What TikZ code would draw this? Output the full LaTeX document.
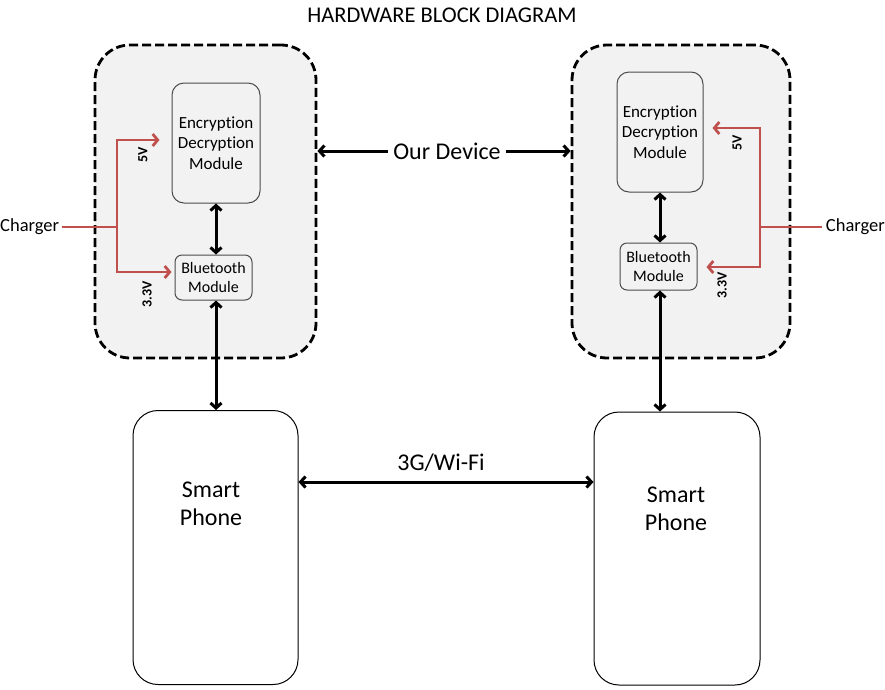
\documentclass[tikz,border=0pt]{standalone}
\usepackage{fontspec}
\setmainfont[Ligatures={NoCommon}]{Carlito}
\usetikzlibrary{arrows.meta}
\definecolor{boxgray}{HTML}{F2F2F2}
\definecolor{powerred}{HTML}{C0504D}
\tikzset{
  centered/.style = { align=center, anchor=center },
     device/.style = { draw, fill=boxgray, line width=2.8pt, dash pattern=on 9pt off 4pt,
                       rounded corners=35pt, minimum width=221pt, minimum height=313pt },
     module/.style = { draw=black!70, fill=boxgray, line width=1pt, rounded corners=12pt,
                       centered, font=\fontsize{17}{20.5}\selectfont, inner sep=0pt },
      phone/.style = { draw, fill=white, line width=1pt, rounded corners=25pt,
                       minimum width=165pt, minimum height=274pt },
      arrow/.style = { line width=3pt, color=black, <->,
                       >={Straight Barb[length=5pt,width=11pt]} },
      power/.style = { line width=2.8pt, color=powerred, ->,
                       >={Straight Barb[length=5pt,width=12pt]} },
       volt/.style = { font=\bfseries\fontsize{14}{16}\selectfont, rotate=90 },
        big/.style = { font=\fontsize{24}{28.5}\selectfont, centered }
}
\begin{document}
\begin{tikzpicture}[x=1pt,y=-1pt]
  \useasboundingbox (0,0) rectangle (885,689);

  \node (title) [font=\fontsize{22.5}{26}\selectfont] at (442,15) {HARDWARE BLOCK DIAGRAM};

  % the two devices
  \node (lbox) [device] at (205.5,201.5) {};
  \node (rbox) [device, minimum width=218pt] at (681,201.5) {};

  \node (lenc) [module, minimum width=88pt, minimum height=120pt] at (216,143)
    {Encryption\\Decryption\\Module};
  \node (lbt) [module, rounded corners=7pt, minimum width=77pt, minimum height=45pt,
    font=\fontsize{16}{19}\selectfont] at (213.5,277.5) {Bluetooth\\Module};
  \node (renc) [module, minimum width=86pt, minimum height=120pt] at (660,132)
    {Encryption\\Decryption\\Module};
  \node (rbt) [module, rounded corners=7pt, minimum width=77pt, minimum height=47pt,
    font=\fontsize{16}{19}\selectfont] at (658.5,266.5) {Bluetooth\\Module};

  % phones
  \node (lphone) [phone] at (215.5,547.5) {};
  \node (rphone) [phone, minimum width=166pt, minimum height=273pt] at (677,548.5) {};
  \node (lsmart) [big] at (211,504) {Smart\\Phone};
  \node (rsmart) [big] at (676,509) {Smart\\Phone};

  % links
  \draw [arrow] (lenc.south -| 216,0) -- (lbt.north -| 216,0);
  \draw [arrow] (lbt.south -| 216,0) -- (lphone.north -| 216,0);
  \draw [arrow] (renc.south -| 660,0) -- (rbt.north -| 660,0);
  \draw [arrow] (rbt.south -| 660,0) -- (rphone.north -| 660,0);

  \node (dev) [big, inner sep=5pt] at (447,151) {Our Device};
  \draw [arrow, ->] (dev.west) -- (lbox.east |- dev);
  \draw [arrow, ->] (dev.east) -- (rbox.west |- dev);

  \node (wifi) [big] at (441,463) {3G/Wi-Fi};
  \draw [arrow] (lphone.east |- 0,482) -- (rphone.west |- 0,482);

  % chargers
  \node (lchg) [font=\fontsize{18.5}{22}\selectfont, anchor=west, inner sep=0pt] at (0,227) {Charger};
  \coordinate (lj) at (117,227);
  \draw [power, -] (lchg.east) ++(3,0) -- (lj);
  \draw [power, shorten >=12pt] (lj) |- (lenc.west |- 0,140);
  \draw [power, shorten >=3pt] (lj) |- (lbt.west |- 0,272);
  \node (l5v) [volt] at (143,155) {5V};
  \node (l33v) [volt] at (147,294) {3.3V};

  \node (rchg) [font=\fontsize{18.5}{22}\selectfont, anchor=east, inner sep=0pt] at (885,227) {Charger};
  \coordinate (rj) at (760,227);
  \draw [power, -] (rchg.west) ++(-4,0) -- (rj);
  \draw [power, shorten >=9pt] (rj) |- (renc.east |- 0,128);
  \draw [power, shorten >=9pt] (rj) |- (rbt.east |- 0,267);
  \node (r5v) [volt] at (737,143) {5V};
  \node (r33v) [volt] at (722,285) {3.3V};
\end{tikzpicture}
\end{document}
